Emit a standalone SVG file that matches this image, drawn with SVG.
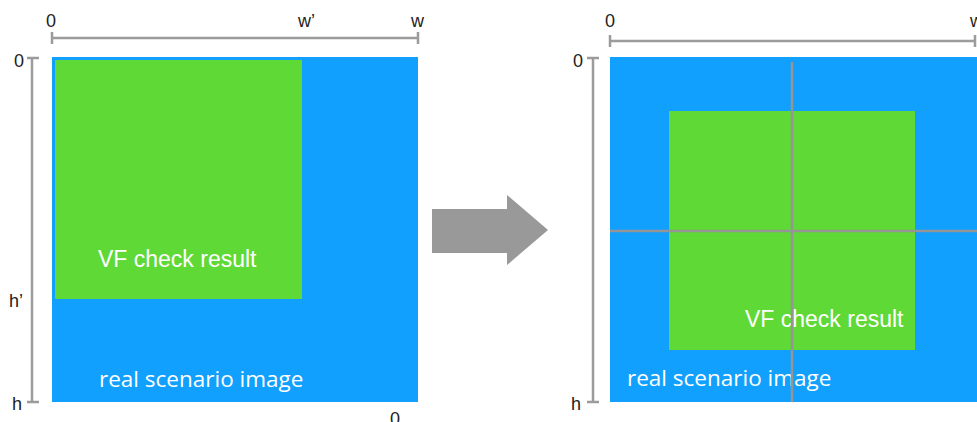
<svg xmlns="http://www.w3.org/2000/svg" width="977" height="422" viewBox="0 0 977 422">
<style>
.ax{stroke:#9b9b9b;stroke-width:2.5;fill:none}
.lbl{font-family:"Liberation Sans",Arial,sans-serif;font-size:18px;fill:#222}
.wt{font-family:"Open Sans","Liberation Sans",sans-serif;font-size:22.5px;fill:#ffffff}
.vf{font-family:"Liberation Sans",Arial,sans-serif;font-size:23px;fill:#ffffff}
.blue{fill:#12a0ff}
.green{fill:#5fd936}
.cross{stroke:#959595;stroke-width:2.5;fill:none}
</style>
<rect width="977" height="422" fill="#ffffff"/>
<g id="left-image">
<rect class="blue" x="52" y="57" width="366" height="345"/>
<rect class="green" x="55" y="60" width="247" height="239"/>
<text class="vf" x="98" y="267">VF check result</text>
<text class="wt" x="99" y="387">real scenario image</text>
</g>
<g id="left-axes">
<path class="ax" d="M52 38H418M52 32V44M418 32V44"/>
<path class="ax" d="M32 58V402M27 58H39M27 402H39"/>
<text class="lbl" x="46" y="27">0</text>
<text class="lbl" x="298" y="27">w’</text>
<text class="lbl" x="411" y="27">w</text>
<text class="lbl" x="14" y="67">0</text>
<text class="lbl" x="9" y="307">h’</text>
<text class="lbl" x="12" y="410">h</text>
<text class="lbl" x="390" y="425">0</text>
</g>
<g id="arrow">
<polygon points="432,209 507,209 507,195 548,230 507,265 507,253 432,253" fill="#999999"/>
</g>
<g id="right-image">
<rect class="blue" x="610" y="57" width="367" height="345"/>
<rect class="green" x="669" y="111" width="246" height="239"/>
<text class="vf" x="745" y="327">VF check result</text>
<text class="wt" x="627" y="386">real scenario image</text>
<path class="cross" d="M792 62V402M610 231H977"/>
</g>
<g id="right-axes">
<path class="ax" d="M610 41H975M610 35V47M975 35V47"/>
<path class="ax" d="M593 58V402M587 58H599M587 402H599"/>
<text class="lbl" x="605" y="27">0</text>
<text class="lbl" x="970" y="27">w</text>
<text class="lbl" x="573" y="67">0</text>
<text class="lbl" x="571" y="410">h</text>
</g>
</svg>
